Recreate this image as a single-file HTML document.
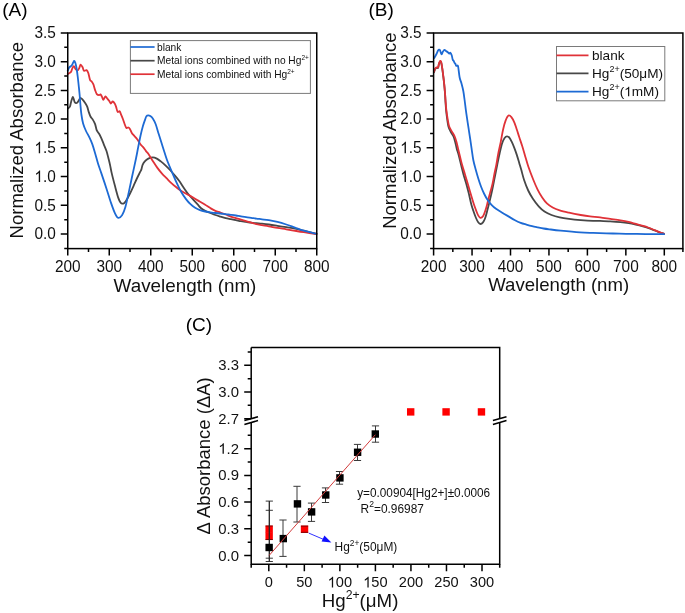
<!DOCTYPE html>
<html><head><meta charset="utf-8"><title>Figure</title>
<style>
html,body{margin:0;padding:0;background:#fff;width:685px;height:613px;overflow:hidden;}
svg{display:block;will-change:transform;font-family:"Liberation Sans", sans-serif;}
</style></head>
<body>
<svg width="685" height="613" viewBox="0 0 685 613">
<rect width="685" height="613" fill="#fff"/>
<text x="2.3" y="16" font-size="19">(A)</text>
<g fill="none" stroke-width="1.8" stroke-linejoin="round" stroke-linecap="round">
<path stroke="#474747" d="M68.1,108.5 C68.42,108.15 69.5,107.5 70,106.4 C70.5,105.3 70.62,103.48 71.1,101.9 C71.58,100.32 72.32,96.9 72.9,96.9 C73.48,96.9 73.95,100.88 74.6,101.9 C75.25,102.92 76.13,103.2 76.8,103 C77.47,102.8 78.02,101.55 78.6,100.7 C79.18,99.85 79.63,98.08 80.3,97.9 C80.97,97.72 81.85,98.85 82.6,99.6 C83.35,100.35 84.05,101.27 84.8,102.4 C85.55,103.53 86.43,104.78 87.1,106.4 C87.77,108.02 88.22,110.38 88.8,112.1 C89.38,113.82 89.93,115.45 90.6,116.7 C91.27,117.95 92.05,118.37 92.8,119.6 C93.55,120.83 94.43,122.3 95.1,124.1 C95.77,125.9 96.13,128.78 96.8,130.4 C97.47,132.02 98.33,132.47 99.1,133.8 C99.87,135.13 100.63,136.68 101.4,138.4 C102.17,140.12 102.85,142 103.7,144.1 C104.55,146.2 105.73,148.72 106.5,151 C107.27,153.28 107.72,155.52 108.3,157.8 C108.88,160.08 109.43,162.15 110,164.7 C110.57,167.25 110.87,169.53 111.7,173.1 C112.53,176.67 113.92,182.02 115,186.1 C116.08,190.18 117.28,194.87 118.2,197.6 C119.12,200.33 119.83,201.5 120.5,202.5 C121.17,203.5 121.62,203.48 122.2,203.6 C122.78,203.72 123.35,203.67 124,203.2 C124.65,202.73 125.1,202.42 126.1,200.8 C127.1,199.18 128.75,196 130,193.5 C131.25,191 132.45,188.3 133.6,185.8 C134.75,183.3 135.78,180.85 136.9,178.5 C138.02,176.15 139.55,173.22 140.3,171.7 C141.05,170.18 141.02,170.55 141.4,169.4 C141.78,168.25 142.03,166.13 142.6,164.8 C143.17,163.47 143.85,162.43 144.8,161.4 C145.75,160.37 146.97,159.27 148.3,158.6 C149.63,157.93 151.38,157.4 152.8,157.4 C154.22,157.4 155.47,157.93 156.8,158.6 C158.13,159.27 159.37,160.27 160.8,161.4 C162.23,162.53 163.87,163.97 165.4,165.4 C166.93,166.83 168.48,168.38 170,170 C171.52,171.62 172.98,173.3 174.5,175.1 C176.02,176.9 177.57,178.7 179.1,180.8 C180.63,182.9 182.18,185.5 183.7,187.7 C185.22,189.9 186.68,192.1 188.2,194 C189.72,195.9 191.27,197.4 192.8,199.1 C194.33,200.8 196.02,202.68 197.4,204.2 C198.78,205.72 199.8,207.08 201.1,208.2 C202.4,209.32 203.67,210.1 205.2,210.9 C206.73,211.7 208.6,212.32 210.3,213 C212,213.68 213.7,214.4 215.4,215 C217.1,215.6 218.78,216.08 220.5,216.6 C222.22,217.12 223.98,217.68 225.7,218.1 C227.42,218.52 229.1,218.77 230.8,219.1 C232.5,219.43 234.2,219.75 235.9,220.1 C237.6,220.45 239.3,220.9 241,221.2 C242.7,221.5 244.4,221.65 246.1,221.9 C247.8,222.15 249.5,222.48 251.2,222.7 C252.9,222.92 254.5,223.03 256.3,223.2 C258.1,223.37 259.92,223.48 262,223.7 C264.08,223.92 266.22,224.15 268.8,224.5 C271.38,224.85 274.58,225.35 277.5,225.8 C280.42,226.25 283.38,226.73 286.3,227.2 C289.22,227.67 292.08,228.02 295,228.6 C297.92,229.18 300.22,229.82 303.8,230.7 C307.38,231.58 314.38,233.37 316.5,233.9"/>
<path stroke="#e03238" d="M67.7,74.1 C67.98,73.92 68.83,73.38 69.4,73 C69.97,72.62 70.62,72.57 71.1,71.8 C71.58,71.03 71.85,69.35 72.3,68.4 C72.75,67.45 73.27,66 73.8,66.1 C74.33,66.2 74.9,68.23 75.5,69 C76.1,69.77 76.8,70.8 77.4,70.7 C78,70.6 78.57,69.42 79.1,68.4 C79.63,67.38 80.02,64.78 80.6,64.6 C81.18,64.42 82.03,66.28 82.6,67.3 C83.17,68.32 83.33,70.23 84,70.7 C84.67,71.17 85.88,69.72 86.6,70.1 C87.32,70.48 87.73,71.38 88.3,73 C88.87,74.62 89.43,78.38 90,79.8 C90.57,81.22 91.13,80.73 91.7,81.5 C92.27,82.27 92.83,82.97 93.4,84.4 C93.97,85.83 94.53,88.48 95.1,90.1 C95.67,91.72 96.13,93.25 96.8,94.1 C97.47,94.95 98.48,95.15 99.1,95.2 C99.72,95.25 100.02,94.13 100.5,94.4 C100.98,94.67 101.52,95.9 102,96.8 C102.48,97.7 102.83,99.87 103.4,99.8 C103.97,99.73 104.75,96.6 105.4,96.4 C106.05,96.2 106.65,97.83 107.3,98.6 C107.95,99.37 108.72,100.18 109.3,101 C109.88,101.82 110.23,103.42 110.8,103.5 C111.37,103.58 112.05,101.5 112.7,101.5 C113.35,101.5 114.13,102.6 114.7,103.5 C115.27,104.4 115.62,105.52 116.1,106.9 C116.58,108.28 117.02,111.07 117.6,111.8 C118.18,112.53 119.03,110.88 119.6,111.3 C120.17,111.72 120.43,112.98 121,114.3 C121.57,115.62 122.33,117.42 123,119.2 C123.67,120.98 124.43,123.53 125,125 C125.57,126.47 125.83,127.58 126.4,128 C126.97,128.42 127.82,127.35 128.4,127.5 C128.98,127.65 129.33,128 129.9,128.9 C130.47,129.8 131.07,131.75 131.8,132.9 C132.53,134.05 133.4,134.75 134.3,135.8 C135.2,136.85 136.12,137.7 137.2,139.2 C138.28,140.7 139.82,143.48 140.8,144.8 C141.78,146.12 142.23,146.05 143.1,147.1 C143.97,148.15 145.13,149.98 146,151.1 C146.87,152.22 147.17,152.17 148.3,153.8 C149.43,155.43 151.28,158.55 152.8,160.9 C154.32,163.25 155.87,165.78 157.4,167.9 C158.93,170.02 160.48,171.88 162,173.6 C163.52,175.32 164.98,176.67 166.5,178.2 C168.02,179.73 169.57,181.37 171.1,182.8 C172.63,184.23 174.18,185.57 175.7,186.8 C177.22,188.03 178.68,189.17 180.2,190.2 C181.72,191.23 183.27,192.13 184.8,193 C186.33,193.87 187.7,194.45 189.4,195.4 C191.1,196.35 193.22,197.63 195,198.7 C196.78,199.77 198.4,200.78 200.1,201.8 C201.8,202.82 203.5,203.75 205.2,204.8 C206.9,205.85 208.6,207.08 210.3,208.1 C212,209.12 213.7,210.17 215.4,210.9 C217.1,211.63 218.78,211.9 220.5,212.5 C222.22,213.1 223.98,213.82 225.7,214.5 C227.42,215.18 229.1,216 230.8,216.6 C232.5,217.2 234.2,217.6 235.9,218.1 C237.6,218.6 239.3,219.08 241,219.6 C242.7,220.12 244.4,220.68 246.1,221.2 C247.8,221.72 249.5,222.2 251.2,222.7 C252.9,223.2 254.5,223.78 256.3,224.2 C258.1,224.62 259.92,224.85 262,225.2 C264.08,225.55 266.22,225.85 268.8,226.3 C271.38,226.75 274.58,227.4 277.5,227.9 C280.42,228.4 283.38,228.82 286.3,229.3 C289.22,229.78 292.08,230.32 295,230.8 C297.92,231.28 300.22,231.67 303.8,232.2 C307.38,232.73 314.38,233.7 316.5,234"/>
<path stroke="#1d6ad4" d="M67.7,70.7 C67.98,70.13 68.73,68.17 69.4,67.3 C70.07,66.43 71.07,66.3 71.7,65.5 C72.33,64.7 72.78,63.27 73.2,62.5 C73.62,61.73 73.83,60.82 74.2,60.9 C74.57,60.98 75,61.73 75.4,63 C75.8,64.27 76.22,66.25 76.6,68.5 C76.98,70.75 77.33,73.5 77.7,76.5 C78.07,79.5 78.47,83.33 78.8,86.5 C79.13,89.67 79.43,92.5 79.7,95.5 C79.97,98.5 80.12,101.33 80.4,104.5 C80.68,107.67 80.95,111.33 81.4,114.5 C81.85,117.67 82.33,120.75 83.1,123.5 C83.87,126.25 84.95,128.7 86,131 C87.05,133.3 88.35,135.12 89.4,137.3 C90.45,139.48 91.35,141.45 92.3,144.1 C93.25,146.75 94.15,149.97 95.1,153.2 C96.05,156.43 96.97,160.18 98,163.5 C99.03,166.82 99.88,168.9 101.3,173.1 C102.72,177.3 104.87,183.7 106.5,188.7 C108.13,193.7 109.68,199 111.1,203.1 C112.52,207.2 113.82,210.85 115,213.3 C116.18,215.75 117,217.53 118.2,217.8 C119.4,218.07 121,216.7 122.2,214.9 C123.4,213.1 124.32,210.72 125.4,207 C126.48,203.28 127.6,197.6 128.7,192.6 C129.8,187.6 130.78,182.68 132,177 C133.22,171.32 134.97,163.48 136,158.5 C137.03,153.52 137.45,150.9 138.2,147.1 C138.95,143.3 139.73,139.13 140.5,135.7 C141.27,132.27 142.03,129.18 142.8,126.5 C143.57,123.82 144.5,121.32 145.1,119.6 C145.7,117.88 145.87,116.9 146.4,116.2 C146.93,115.5 147.67,115.43 148.3,115.4 C148.93,115.37 149.45,115.48 150.2,116 C150.95,116.52 151.88,117.12 152.8,118.5 C153.72,119.88 154.75,121.82 155.7,124.3 C156.65,126.78 157.55,130.37 158.5,133.4 C159.45,136.43 160.43,139.45 161.4,142.5 C162.37,145.55 163.33,148.7 164.3,151.7 C165.27,154.7 165.87,156.98 167.2,160.5 C168.53,164.02 170.7,169.03 172.3,172.8 C173.9,176.57 175.28,179.85 176.8,183.1 C178.32,186.35 179.87,189.63 181.4,192.3 C182.93,194.97 184.48,197.12 186,199.1 C187.52,201.08 188.98,202.77 190.5,204.2 C192.02,205.63 193.52,206.72 195.1,207.7 C196.68,208.68 198.32,209.47 200,210.1 C201.68,210.73 203.48,211.13 205.2,211.5 C206.92,211.87 208.6,212.05 210.3,212.3 C212,212.55 213.7,212.8 215.4,213 C217.1,213.2 218.78,213.3 220.5,213.5 C222.22,213.7 223.98,213.98 225.7,214.2 C227.42,214.42 229.1,214.58 230.8,214.8 C232.5,215.02 234.2,215.23 235.9,215.5 C237.6,215.77 239.3,216.13 241,216.4 C242.7,216.67 244.4,216.87 246.1,217.1 C247.8,217.33 249.5,217.55 251.2,217.8 C252.9,218.05 254.5,218.35 256.3,218.6 C258.1,218.85 259.92,219.03 262,219.3 C264.08,219.57 266.22,219.77 268.8,220.2 C271.38,220.63 274.58,221.18 277.5,221.9 C280.42,222.62 283.38,223.55 286.3,224.5 C289.22,225.45 292.08,226.57 295,227.6 C297.92,228.63 300.22,229.65 303.8,230.7 C307.38,231.75 314.38,233.37 316.5,233.9"/>
</g>
<rect x="67.75" y="33" width="249" height="215.6" fill="none" stroke="#000" stroke-width="1.5"/>
<path d="M64.25,248.42 H67.75 M60.75,234.05 H67.75 M64.25,219.68 H67.75 M60.75,205.31 H67.75 M64.25,190.95 H67.75 M60.75,176.58 H67.75 M64.25,162.21 H67.75 M60.75,147.85 H67.75 M64.25,133.48 H67.75 M60.75,119.11 H67.75 M64.25,104.74 H67.75 M60.75,90.38 H67.75 M64.25,76.01 H67.75 M60.75,61.64 H67.75 M64.25,47.27 H67.75 M60.75,32.91 H67.75 M67.75,248.6 V255.6 M88.5,248.6 V252.1 M109.25,248.6 V255.6 M130,248.6 V252.1 M150.75,248.6 V255.6 M171.5,248.6 V252.1 M192.25,248.6 V255.6 M213,248.6 V252.1 M233.75,248.6 V255.6 M254.5,248.6 V252.1 M275.25,248.6 V255.6 M296,248.6 V252.1 M316.75,248.6 V255.6 " stroke="#000" stroke-width="1.5" fill="none"/>
<g font-size="15.4" fill="#111">
<text transform="translate(55.8,239.35) scale(1,1.045)" text-anchor="end">0.0</text>
<text transform="translate(55.8,210.62) scale(1,1.045)" text-anchor="end">0.5</text>
<text transform="translate(55.8,181.88) scale(1,1.045)" text-anchor="end"> .0</text>
<text transform="translate(55.8,153.15) scale(1,1.045)" text-anchor="end"> .5</text>
<text transform="translate(55.8,124.41) scale(1,1.045)" text-anchor="end">2.0</text>
<text transform="translate(55.8,95.67) scale(1,1.045)" text-anchor="end">2.5</text>
<text transform="translate(55.8,66.94) scale(1,1.045)" text-anchor="end">3.0</text>
<text transform="translate(55.8,38.21) scale(1,1.045)" text-anchor="end">3.5</text>
<text transform="translate(67.75,271.6) scale(1,1.045)" text-anchor="middle">200</text>
<text transform="translate(109.25,271.6) scale(1,1.045)" text-anchor="middle">300</text>
<text transform="translate(150.75,271.6) scale(1,1.045)" text-anchor="middle">400</text>
<text transform="translate(192.25,271.6) scale(1,1.045)" text-anchor="middle">500</text>
<text transform="translate(233.75,271.6) scale(1,1.045)" text-anchor="middle">600</text>
<text transform="translate(275.25,271.6) scale(1,1.045)" text-anchor="middle">700</text>
<text transform="translate(316.75,271.6) scale(1,1.045)" text-anchor="middle">800</text>
</g>
<text x="185" y="291.6" font-size="18.85" text-anchor="middle" fill="#111">Wavelength (nm)</text>
<text transform="translate(22.9,140.2) rotate(-90)" font-size="18.5" text-anchor="middle" fill="#111">Normalized Absorbance</text>
<rect x="130.4" y="40.6" width="180" height="52.8" fill="#fff" stroke="#7a7a7a" stroke-width="1"/>
<g stroke-width="1.7"><line x1="130.4" x2="154.6" y1="47" y2="47" stroke="#1d6ad4"/><line x1="130.4" x2="154.6" y1="60.7" y2="60.7" stroke="#474747"/><line x1="130.4" x2="154.6" y1="74.2" y2="74.2" stroke="#e03238"/></g>
<g font-size="10.2" fill="#111">
<text x="157" y="50.9">blank</text>
<text x="157" y="64">Metal ions combined with no Hg<tspan font-size="6.5" dy="-4">2+</tspan></text>
<text x="157" y="77.6">Metal ions combined with Hg<tspan font-size="6.5" dy="-4">2+</tspan></text>
</g>
<text x="368.4" y="16" font-size="19">(B)</text>
<g fill="none" stroke-width="1.8" stroke-linejoin="round" stroke-linecap="round">
<path stroke="#474747" d="M434,72.2 C434.23,71.63 434.92,69.53 435.4,68.8 C435.88,68.07 436.45,67.97 436.9,67.8 C437.35,67.63 437.75,68.45 438.1,67.8 C438.45,67.15 438.63,64.97 439,63.9 C439.37,62.83 439.92,61.57 440.3,61.4 C440.68,61.23 440.97,61.67 441.3,62.9 C441.63,64.13 441.97,66.52 442.3,68.8 C442.63,71.08 442.98,74 443.3,76.6 C443.62,79.2 443.92,81.63 444.2,84.4 C444.48,87.17 444.8,90.55 445,93.2 C445.2,95.85 445.22,97.48 445.4,100.3 C445.58,103.12 445.78,106.83 446.1,110.1 C446.42,113.37 446.9,117.13 447.3,119.9 C447.7,122.67 447.95,124.75 448.5,126.7 C449.05,128.65 449.77,129.97 450.6,131.6 C451.43,133.23 452.72,134.7 453.5,136.5 C454.28,138.3 454.75,140.32 455.3,142.4 C455.85,144.48 456.25,146.93 456.8,149 C457.35,151.07 457.9,152.2 458.6,154.8 C459.3,157.4 460.18,161.33 461,164.6 C461.82,167.87 462.6,171.13 463.5,174.4 C464.4,177.67 465.5,180.95 466.4,184.2 C467.3,187.45 468.1,190.6 468.9,193.9 C469.7,197.2 470.45,201.15 471.2,204 C471.95,206.85 472.6,208.67 473.4,211 C474.2,213.33 475.2,216.13 476,218 C476.8,219.87 477.47,221.2 478.2,222.2 C478.93,223.2 479.6,223.97 480.4,224 C481.2,224.03 482.2,223.4 483,222.4 C483.8,221.4 484.47,220.05 485.2,218 C485.93,215.95 486.67,212.87 487.4,210.1 C488.13,207.33 488.8,204.75 489.6,201.4 C490.4,198.05 491.37,193.9 492.2,190 C493.03,186.1 493.77,182.17 494.6,178 C495.43,173.83 496.35,169.17 497.2,165 C498.05,160.83 498.88,156.6 499.7,153 C500.52,149.4 501.28,145.9 502.1,143.4 C502.92,140.9 503.78,139.18 504.6,138 C505.42,136.82 506.18,136.33 507,136.3 C507.82,136.27 508.68,136.82 509.5,137.8 C510.32,138.78 511.08,140.48 511.9,142.2 C512.72,143.92 513.58,145.98 514.4,148.1 C515.22,150.22 515.98,152.38 516.8,154.9 C517.62,157.42 518.57,160.75 519.3,163.2 C520.03,165.65 520.4,166.8 521.2,169.6 C522,172.4 522.93,176.52 524.1,180 C525.27,183.48 526.73,187.38 528.2,190.5 C529.67,193.62 531.15,196.07 532.9,198.7 C534.65,201.33 536.77,204.17 538.7,206.3 C540.63,208.43 542.37,210.05 544.5,211.5 C546.63,212.95 548.97,214.02 551.5,215 C554.03,215.98 556.78,216.75 559.7,217.4 C562.62,218.05 565.5,218.45 569,218.9 C572.5,219.35 576.68,219.77 580.7,220.1 C584.72,220.43 589.88,220.78 593.1,220.9 C596.32,221.02 597.15,220.72 600,220.8 C602.85,220.88 606.8,221.17 610.2,221.4 C613.6,221.63 617.33,221.9 620.4,222.2 C623.47,222.5 626.03,222.8 628.6,223.2 C631.17,223.6 633.42,224.08 635.8,224.6 C638.18,225.12 640.87,225.77 642.9,226.3 C644.93,226.83 646.3,227.22 648,227.8 C649.7,228.38 651.4,229.13 653.1,229.8 C654.8,230.47 656.37,231.13 658.2,231.8 C660.03,232.47 663.12,233.47 664.1,233.8"/>
<path stroke="#e03238" d="M434,71.7 C434.23,71.13 434.92,69.03 435.4,68.3 C435.88,67.57 436.45,67.47 436.9,67.3 C437.35,67.13 437.75,67.95 438.1,67.3 C438.45,66.65 438.63,64.47 439,63.4 C439.37,62.33 439.92,61.07 440.3,60.9 C440.68,60.73 440.97,61.17 441.3,62.4 C441.63,63.63 441.97,66.02 442.3,68.3 C442.63,70.58 442.98,73.5 443.3,76.1 C443.62,78.7 443.92,81.13 444.2,83.9 C444.48,86.67 444.78,90.05 445,92.7 C445.22,95.35 445.28,96.98 445.5,99.8 C445.72,102.62 445.93,106.33 446.3,109.6 C446.67,112.87 447.23,116.63 447.7,119.4 C448.17,122.17 448.45,124.25 449.1,126.2 C449.75,128.15 450.7,129.47 451.6,131.1 C452.5,132.73 453.68,134.2 454.5,136 C455.32,137.8 455.85,139.57 456.5,141.9 C457.15,144.23 457.82,147.57 458.4,150 C458.98,152.43 459.4,154.07 460,156.5 C460.6,158.93 461.17,161.62 462,164.6 C462.83,167.58 464.02,171.13 465,174.4 C465.98,177.67 466.97,181.02 467.9,184.2 C468.83,187.38 469.62,190.2 470.6,193.5 C471.58,196.8 472.9,201.23 473.8,204 C474.7,206.77 475.27,208.2 476,210.1 C476.73,212 477.47,214.12 478.2,215.4 C478.93,216.68 479.6,217.65 480.4,217.8 C481.2,217.95 482.2,217.43 483,216.3 C483.8,215.17 484.53,212.9 485.2,211 C485.87,209.1 486.42,207.08 487,204.9 C487.58,202.72 488.05,200.38 488.7,197.9 C489.35,195.42 490.25,192.4 490.9,190 C491.55,187.6 492.03,186.1 492.6,183.5 C493.17,180.9 493.68,177.52 494.3,174.4 C494.92,171.28 495.65,168.22 496.3,164.8 C496.95,161.38 497.47,157.67 498.2,153.9 C498.93,150.13 499.88,146.27 500.7,142.2 C501.52,138.13 502.28,133.08 503.1,129.5 C503.92,125.92 504.7,123.02 505.6,120.7 C506.5,118.38 507.53,116.18 508.5,115.6 C509.47,115.02 510.42,116.03 511.4,117.2 C512.38,118.37 513.5,120.55 514.4,122.6 C515.3,124.65 515.98,127.05 516.8,129.5 C517.62,131.95 518.4,134.53 519.3,137.3 C520.2,140.07 521.23,143 522.2,146.1 C523.17,149.2 524.08,152.5 525.1,155.9 C526.12,159.3 526.92,162.48 528.3,166.5 C529.68,170.52 531.87,176.2 533.4,180 C534.93,183.8 536.03,186.38 537.5,189.3 C538.97,192.22 540.63,195.15 542.2,197.5 C543.77,199.85 545.15,201.73 546.9,203.4 C548.65,205.07 550.57,206.33 552.7,207.5 C554.83,208.67 556.98,209.53 559.7,210.4 C562.42,211.27 565.5,211.93 569,212.7 C572.5,213.47 577.2,214.38 580.7,215 C584.2,215.62 586.78,216.02 590,216.4 C593.22,216.78 596.63,216.9 600,217.3 C603.37,217.7 606.8,218.3 610.2,218.8 C613.6,219.3 617.33,219.78 620.4,220.3 C623.47,220.82 626.03,221.3 628.6,221.9 C631.17,222.5 633.42,223.23 635.8,223.9 C638.18,224.57 640.87,225.3 642.9,225.9 C644.93,226.5 646.3,226.9 648,227.5 C649.7,228.1 651.4,228.82 653.1,229.5 C654.8,230.18 656.37,230.88 658.2,231.6 C660.03,232.32 663.12,233.43 664.1,233.8"/>
<path stroke="#1d6ad4" d="M434.2,58 C434.4,57.67 434.95,56.82 435.4,56 C435.85,55.18 436.48,53.98 436.9,53.1 C437.32,52.22 437.57,51.27 437.9,50.7 C438.23,50.13 438.55,49.78 438.9,49.7 C439.25,49.62 439.57,49.45 440,50.2 C440.43,50.95 441,53.98 441.5,54.2 C442,54.42 442.52,52.22 443,51.5 C443.48,50.78 443.9,49.98 444.4,49.9 C444.9,49.82 445.43,50.62 446,51 C446.57,51.38 447.25,51.75 447.8,52.2 C448.35,52.65 448.88,53.62 449.3,53.7 C449.72,53.78 449.9,52.45 450.3,52.7 C450.7,52.95 451.3,54.05 451.7,55.2 C452.1,56.35 452.37,58.63 452.7,59.6 C453.03,60.57 453.37,60.43 453.7,61 C454.03,61.57 454.4,62.5 454.7,63 C455,63.5 455.27,63.57 455.5,64 C455.73,64.43 455.83,65.28 456.1,65.6 C456.37,65.92 456.77,65.77 457.1,65.9 C457.43,66.03 457.68,64.52 458.1,66.4 C458.52,68.28 459.03,74.35 459.6,77.2 C460.17,80.05 460.88,81.2 461.5,83.5 C462.12,85.8 462.78,88.25 463.3,91 C463.82,93.75 464.18,96.9 464.6,100 C465.02,103.1 465.37,106.37 465.8,109.6 C466.23,112.83 466.72,116.13 467.2,119.4 C467.68,122.67 468.2,125.93 468.7,129.2 C469.2,132.47 469.72,135.75 470.2,139 C470.68,142.25 471.08,145.2 471.6,148.7 C472.12,152.2 472.62,156.53 473.3,160 C473.98,163.47 474.87,166.42 475.7,169.5 C476.53,172.58 477.42,175.67 478.3,178.5 C479.18,181.33 480.05,184 481,186.5 C481.95,189 482.92,191.28 484,193.5 C485.08,195.72 486.25,197.92 487.5,199.8 C488.75,201.68 490.08,203.3 491.5,204.8 C492.92,206.3 494.35,207.57 496,208.8 C497.65,210.03 499.47,211.02 501.4,212.2 C503.33,213.38 505.33,214.57 507.6,215.9 C509.87,217.23 512.82,219.05 515,220.2 C517.18,221.35 518.8,222.07 520.7,222.8 C522.6,223.53 524.5,224.03 526.4,224.6 C528.3,225.17 530.2,225.73 532.1,226.2 C534,226.67 535.9,227.02 537.8,227.4 C539.7,227.78 541.58,228.18 543.5,228.5 C545.42,228.82 546.43,228.95 549.3,229.3 C552.17,229.65 555.58,230.1 560.7,230.6 C565.82,231.1 574.6,231.92 580,232.3 C585.4,232.68 588.72,232.73 593.1,232.9 C597.48,233.07 601.92,233.17 606.3,233.3 C610.68,233.43 615.02,233.6 619.4,233.7 C623.78,233.8 628.22,233.83 632.6,233.9 C636.98,233.97 640.45,234.05 645.7,234.1 C650.95,234.15 661.03,234.18 664.1,234.2"/>
</g>
<rect x="433.6" y="33" width="249.3" height="215.6" fill="none" stroke="#000" stroke-width="1.5"/>
<path d="M430.1,248.42 H433.6 M426.6,234.05 H433.6 M430.1,219.68 H433.6 M426.6,205.31 H433.6 M430.1,190.95 H433.6 M426.6,176.58 H433.6 M430.1,162.21 H433.6 M426.6,147.85 H433.6 M430.1,133.48 H433.6 M426.6,119.11 H433.6 M430.1,104.74 H433.6 M426.6,90.38 H433.6 M430.1,76.01 H433.6 M426.6,61.64 H433.6 M430.1,47.27 H433.6 M426.6,32.91 H433.6 M433.6,248.6 V255.6 M452.83,248.6 V252.1 M472.05,248.6 V255.6 M491.28,248.6 V252.1 M510.5,248.6 V255.6 M529.73,248.6 V252.1 M548.95,248.6 V255.6 M568.18,248.6 V252.1 M587.4,248.6 V255.6 M606.62,248.6 V252.1 M625.85,248.6 V255.6 M645.08,248.6 V252.1 M664.3,248.6 V255.6 M682.9,248.6 V252.1 " stroke="#000" stroke-width="1.5" fill="none"/>
<g font-size="15.4" fill="#111">
<text transform="translate(421.6,239.35) scale(1,1.045)" text-anchor="end">0.0</text>
<text transform="translate(421.6,210.62) scale(1,1.045)" text-anchor="end">0.5</text>
<text transform="translate(421.6,181.88) scale(1,1.045)" text-anchor="end"> .0</text>
<text transform="translate(421.6,153.15) scale(1,1.045)" text-anchor="end"> .5</text>
<text transform="translate(421.6,124.41) scale(1,1.045)" text-anchor="end">2.0</text>
<text transform="translate(421.6,95.67) scale(1,1.045)" text-anchor="end">2.5</text>
<text transform="translate(421.6,66.94) scale(1,1.045)" text-anchor="end">3.0</text>
<text transform="translate(421.6,38.21) scale(1,1.045)" text-anchor="end">3.5</text>
<text transform="translate(433.6,271.6) scale(1,1.045)" text-anchor="middle">200</text>
<text transform="translate(472.05,271.6) scale(1,1.045)" text-anchor="middle">300</text>
<text transform="translate(510.5,271.6) scale(1,1.045)" text-anchor="middle">400</text>
<text transform="translate(548.95,271.6) scale(1,1.045)" text-anchor="middle">500</text>
<text transform="translate(587.4,271.6) scale(1,1.045)" text-anchor="middle">600</text>
<text transform="translate(625.85,271.6) scale(1,1.045)" text-anchor="middle">700</text>
<text transform="translate(664.3,271.6) scale(1,1.045)" text-anchor="middle">800</text>
</g>
<text x="558.7" y="290.8" font-size="18.6" text-anchor="middle" fill="#111">Wavelength (nm)</text>
<text transform="translate(396.2,130.6) rotate(-90)" font-size="18.5" text-anchor="middle" fill="#111">Normalized Absorbance</text>
<rect x="556.5" y="46.5" width="108.3" height="54.3" fill="#fff" stroke="#7a7a7a" stroke-width="1"/>
<g stroke-width="1.7"><line x1="556.5" x2="588.5" y1="55.4" y2="55.4" stroke="#e03238"/><line x1="556.5" x2="588.5" y1="73.4" y2="73.4" stroke="#474747"/><line x1="556.5" x2="588.5" y1="91.6" y2="91.6" stroke="#1d6ad4"/></g>
<g font-size="13.6" fill="#111">
<text x="592" y="59.8">blank</text>
<text x="592" y="78">Hg<tspan font-size="9" dy="-5.8">2+</tspan><tspan dy="5.8">(50μM)</tspan></text>
<text x="592" y="96.2">Hg<tspan font-size="9" dy="-5.8">2+</tspan><tspan dy="5.8">( mM)</tspan></text>
</g>
<text x="185.8" y="331" font-size="19">(C)</text>
<path d="M251.2,347.6 V418.2 M251.2,422.4 V564.3 M251.2,347.6 H499.7 V418.2 M499.7,422.4 V564.3 H250.45" stroke="#000" stroke-width="1.5" fill="none"/>
<path d="M244.4,420.6 L258,416.8 M244.4,424.4 L258,420.6" stroke="#000" stroke-width="1.6" fill="none"/>
<path d="M492.9,420.6 L506.5,416.8 M492.9,424.4 L506.5,420.6" stroke="#000" stroke-width="1.6" fill="none"/>
<path d="M247.7,351.95 H251.2 M244.2,365.3 H251.2 M247.7,378.65 H251.2 M244.2,392 H251.2 M247.7,405.35 H251.2 M244.2,418.7 H251.2 M247.7,435.35 H251.2 M244.2,448.7 H251.2 M247.7,462.05 H251.2 M244.2,475.4 H251.2 M247.7,488.75 H251.2 M244.2,502.1 H251.2 M247.7,515.45 H251.2 M244.2,528.8 H251.2 M247.7,542.15 H251.2 M244.2,555.5 H251.2 M251.2,564.3 V567.8 M268.8,564.3 V571.3 M286.57,564.3 V567.8 M304.34,564.3 V571.3 M322.1,564.3 V567.8 M339.87,564.3 V571.3 M357.64,564.3 V567.8 M375.41,564.3 V571.3 M393.17,564.3 V567.8 M410.94,564.3 V571.3 M428.71,564.3 V567.8 M446.48,564.3 V571.3 M464.24,564.3 V567.8 M482.01,564.3 V571.3 M499.7,564.3 V567.8 " stroke="#000" stroke-width="1.5" fill="none"/>
<g font-size="15.4" fill="#111">
<text transform="translate(239,370.3)" font-size="14.9" text-anchor="end">3.3</text>
<text transform="translate(239,397)" font-size="14.9" text-anchor="end">3.0</text>
<text transform="translate(239,423.7)" font-size="14.9" text-anchor="end">2.7</text>
<text transform="translate(239,453.7)" font-size="14.9" text-anchor="end"> .2</text>
<text transform="translate(239,480.4)" font-size="14.9" text-anchor="end">0.9</text>
<text transform="translate(239,507.1)" font-size="14.9" text-anchor="end">0.6</text>
<text transform="translate(239,533.8)" font-size="14.9" text-anchor="end">0.3</text>
<text transform="translate(239,560.5)" font-size="14.9" text-anchor="end">0.0</text>
</g><g font-size="14.6" fill="#111">
<text transform="translate(268.8,587.4) scale(1,1.045)" text-anchor="middle">0</text>
<text transform="translate(304.34,587.4) scale(1,1.045)" text-anchor="middle">50</text>
<text transform="translate(339.87,587.4) scale(1,1.045)" text-anchor="middle"> 00</text>
<text transform="translate(375.41,587.4) scale(1,1.045)" text-anchor="middle"> 50</text>
<text transform="translate(410.94,587.4) scale(1,1.045)" text-anchor="middle">200</text>
<text transform="translate(446.48,587.4) scale(1,1.045)" text-anchor="middle">250</text>
<text transform="translate(482.01,587.4) scale(1,1.045)" text-anchor="middle">300</text>
</g>
<text x="321.8" y="606.7" font-size="18.7" fill="#111">Hg<tspan font-size="12.2" dy="-7.9">2+</tspan><tspan dy="7.9">(μM)</tspan></text>
<text transform="translate(210.2,455.9) rotate(-90)" font-size="18.5" text-anchor="middle" fill="#111">Δ Absorbance (ΔA)</text>
<rect x="265.45" y="525.54" width="7.4" height="7.4" fill="#f00"/>
<rect x="265.45" y="532.66" width="7.4" height="7.4" fill="#f00"/>
<rect x="300.83" y="525.54" width="7.4" height="7.4" fill="#f00"/>
<rect x="406.99" y="408.2" width="7.4" height="7.4" fill="#f00"/>
<rect x="442.38" y="408.2" width="7.4" height="7.4" fill="#f00"/>
<rect x="477.76" y="408.2" width="7.4" height="7.4" fill="#f00"/>
<path d="M265.55,526 H272.75 M265.55,539.5 H272.75 M300.93,526.1 H308.13 M300.93,532.3 H308.13" stroke="#500" stroke-opacity="0.75" stroke-width="1" fill="none"/>
<path d="M269.3,501.1 V561.5 M265.7,501.1 H272.9 M265.7,510.3 H272.9 M265.7,558.2 H272.9 M265.7,561.5 H272.9 M283,520 V556.4 M279.4,520 H286.6 M279.4,556.4 H286.6 M297,486.3 V522 M293.4,486.3 H300.6 M293.4,522 H300.6 M311.5,503.1 V521.4 M307.9,503.1 H315.1 M307.9,521.4 H315.1 M325.5,487.9 V502.5 M321.9,487.9 H329.1 M321.9,502.5 H329.1 M339.5,471.5 V484.2 M335.9,471.5 H343.1 M335.9,484.2 H343.1 M357.5,444.4 V460.5 M353.9,444.4 H361.1 M353.9,460.5 H361.1 M375.5,425.9 V442.2 M371.9,425.9 H379.1 M371.9,442.2 H379.1 " stroke="#3a3a3a" stroke-width="1" fill="none"/>
<path d="M269.3,501.1 V561.5" stroke="#222" stroke-width="1" fill="none"/>
<rect x="265.45" y="543.79" width="7.4" height="7.4" fill="#000"/>
<rect x="279.6" y="534.89" width="7.4" height="7.4" fill="#000"/>
<rect x="293.76" y="500.18" width="7.4" height="7.4" fill="#000"/>
<rect x="307.91" y="508.19" width="7.4" height="7.4" fill="#000"/>
<rect x="322.07" y="491.28" width="7.4" height="7.4" fill="#000"/>
<rect x="336.22" y="474.19" width="7.4" height="7.4" fill="#000"/>
<rect x="353.91" y="448.56" width="7.4" height="7.4" fill="#000"/>
<rect x="371.6" y="430.31" width="7.4" height="7.4" fill="#000"/>
<line x1="269.15" y1="555.45" x2="375.3" y2="434.76" stroke="#d23c3c" stroke-width="1"/>
<line x1="308.8" y1="533.1" x2="324" y2="539.6" stroke="#1a1aff" stroke-width="0.9"/>
<path d="M331.4,542.6 L321.6,541.6 L324.4,535.6 Z" fill="#1010ff"/>
<text x="334.6" y="551.4" font-size="11.9" fill="#111">Hg<tspan font-size="8.4" dy="-5.3">2+</tspan><tspan dy="5.3">(50μM)</tspan></text>
<text transform="translate(357.2,497.0) scale(1,1.1)" font-size="11.8" fill="#111">y=0.00904[Hg2+]±0.0006</text>
<text transform="translate(360.6,513.0) scale(1,1.06)" font-size="11.9" fill="#111">R<tspan font-size="8.6" dy="-5.4">2</tspan><tspan dy="5.4">=0.96987</tspan></text>
<g><g transform="translate(55.8,181.88) scale(1,1.045)"><path fill="#111" transform="translate(-21.42,0.00) scale(0.00752,-0.00752)" d="M763,0L583,0L583,1120C540,1080 483,1040 412,998C341,958 277,928 221,908L221,1078C322,1124 409,1180 485,1246C561,1312 614,1376 645,1440L763,1440Z"/></g><g transform="translate(55.8,153.15) scale(1,1.045)"><path fill="#111" transform="translate(-21.42,0.00) scale(0.00752,-0.00752)" d="M763,0L583,0L583,1120C540,1080 483,1040 412,998C341,958 277,928 221,908L221,1078C322,1124 409,1180 485,1246C561,1312 614,1376 645,1440L763,1440Z"/></g><g transform="translate(421.6,181.88) scale(1,1.045)"><path fill="#111" transform="translate(-21.42,0.00) scale(0.00752,-0.00752)" d="M763,0L583,0L583,1120C540,1080 483,1040 412,998C341,958 277,928 221,908L221,1078C322,1124 409,1180 485,1246C561,1312 614,1376 645,1440L763,1440Z"/></g><g transform="translate(421.6,153.15) scale(1,1.045)"><path fill="#111" transform="translate(-21.42,0.00) scale(0.00752,-0.00752)" d="M763,0L583,0L583,1120C540,1080 483,1040 412,998C341,958 277,928 221,908L221,1078C322,1124 409,1180 485,1246C561,1312 614,1376 645,1440L763,1440Z"/></g><path fill="#111" transform="translate(624.17,96.20) scale(0.00664,-0.00664)" d="M763,0L583,0L583,1120C540,1080 483,1040 412,998C341,958 277,928 221,908L221,1078C322,1124 409,1180 485,1246C561,1312 614,1376 645,1440L763,1440Z"/><g transform="translate(239,453.7)"><path fill="#111" transform="translate(-20.70,0.00) scale(0.00728,-0.00728)" d="M763,0L583,0L583,1120C540,1080 483,1040 412,998C341,958 277,928 221,908L221,1078C322,1124 409,1180 485,1246C561,1312 614,1376 645,1440L763,1440Z"/></g><g transform="translate(339.87,587.4) scale(1,1.045)"><path fill="#111" transform="translate(-12.18,0.00) scale(0.00713,-0.00713)" d="M763,0L583,0L583,1120C540,1080 483,1040 412,998C341,958 277,928 221,908L221,1078C322,1124 409,1180 485,1246C561,1312 614,1376 645,1440L763,1440Z"/></g><g transform="translate(375.41,587.4) scale(1,1.045)"><path fill="#111" transform="translate(-12.18,0.00) scale(0.00713,-0.00713)" d="M763,0L583,0L583,1120C540,1080 483,1040 412,998C341,958 277,928 221,908L221,1078C322,1124 409,1180 485,1246C561,1312 614,1376 645,1440L763,1440Z"/></g></g>
</svg>
</body></html>
